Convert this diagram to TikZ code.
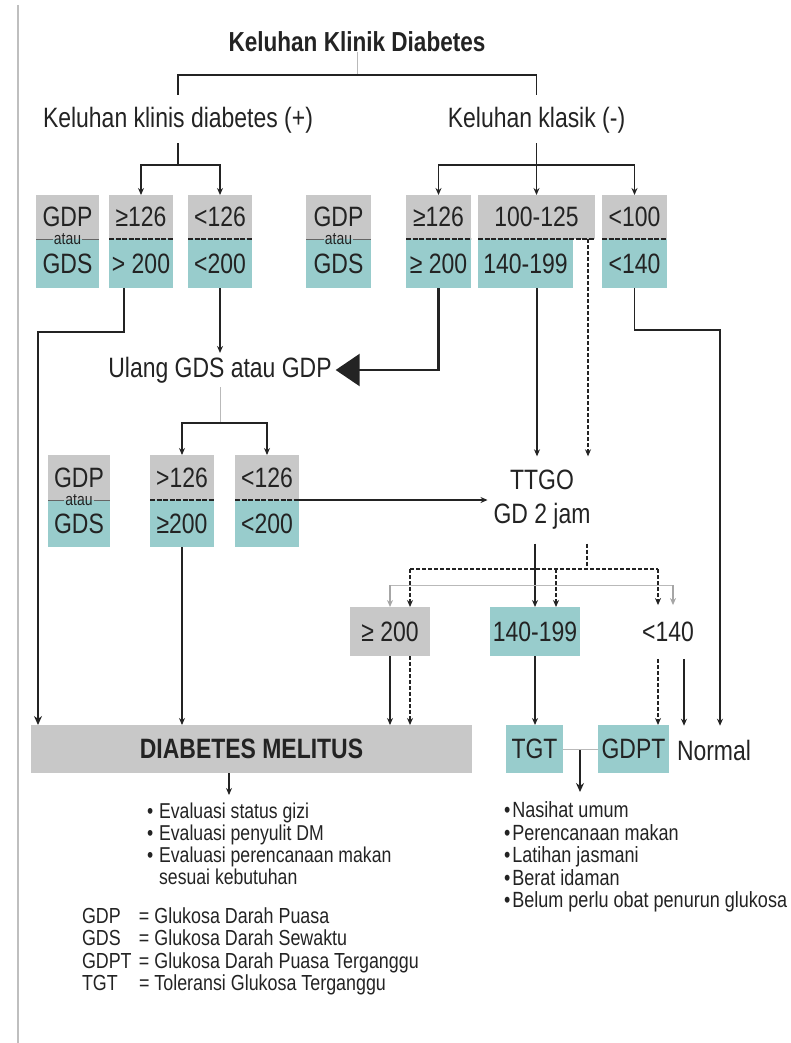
\documentclass[tikz,border=0pt]{standalone}
\usepackage{fontspec}
\setmainfont{Liberation Sans}[FakeStretch=0.82]
\usetikzlibrary{arrows.meta}
\definecolor{bgray}{RGB}{200,200,200}
\definecolor{bteal}{RGB}{152,204,204}
\definecolor{ink}{RGB}{35,35,35}
\newcommand{\mybox}[7]{\node[#2, minimum width={#5-#3}, minimum height={#6-#4}] (#1) at ({(#3+#5)/2},{(#4+#6)/2}) {#7};}
\tikzset{
 txt/.style={inner sep=0pt, outer sep=0pt, text=ink, font=\fontsize{28}{34}\selectfont},
 gcell/.style={txt, fill=bgray},
 tcell/.style={txt, fill=bteal},
 atautxt/.style={txt, font=\fontsize{17}{18}\selectfont, inner xsep=1pt},
 ln/.style={draw=ink, line width=1.2pt},
 arr/.style={ln, -{Stealth[length=7pt,width=6pt]}},
 heavy/.style={draw=ink, line width=2.4pt},
 dsh/.style={dash pattern=on 4pt off 2pt},
 splitline/.style={draw=ink, line width=2.2pt, dash pattern=on 5pt off 1.5pt},
 faint/.style={draw=gray!55, line width=1pt},
 thinsep/.style={draw=ink!70, line width=0.8pt},
 listtxt/.style={txt, anchor=north west, font=\fontsize{21.5}{21.75}\selectfont},
}
\begin{document}
\begin{tikzpicture}[x=1pt,y=-1pt]
\useasboundingbox (0,0) rectangle (790,1043);
% left border
\draw[draw=gray!50, line width=1.5pt] (18,5) -- (18,1043);

% title and first level
\node[txt, font=\bfseries\fontsize{27.5}{30}\selectfont] (T) at (357,42) {Keluhan Klinik Diabetes};
\node[txt] (KL) at (178,120) {Keluhan klinis diabetes (+)};
\node[txt] (KR) at (536.5,120) {Keluhan klasik (-)};
\coordinate (tb) at (357,75);
\draw[faint] (T.south) -- (tb);
\draw[ln, shorten <=12pt, shorten >=12pt] (KL.north) |- (tb) -| (KR.north);

% row 1 boxes
\mybox{A1t}{gcell}{36}{195}{99}{239}{GDP}
\mybox{A1b}{tcell}{36}{239}{99}{288}{GDS}
\node[atautxt] (A1a) at (67.5,239) {atau};
\draw[thinsep] (A1t.south west) -- (A1a.west);
\draw[thinsep] (A1a.east) -- (A1t.south east);

\mybox{B1t}{gcell}{109}{195}{173}{239}{≥126}
\mybox{B1b}{tcell}{109}{239}{173}{288}{> 200}
\draw[splitline] (B1t.south west) -- (B1t.south east);

\mybox{C1t}{gcell}{188}{195}{252}{239}{<126}
\mybox{C1b}{tcell}{188}{239}{252}{288}{<200}
\draw[splitline] (C1t.south west) -- (C1t.south east);

\mybox{D1t}{gcell}{306}{195}{371}{239}{GDP}
\mybox{D1b}{tcell}{306}{239}{371}{288}{GDS}
\node[atautxt] (D1a) at (338.5,239) {atau};
\draw[thinsep] (D1t.south west) -- (D1a.west);
\draw[thinsep] (D1a.east) -- (D1t.south east);

\mybox{E1t}{gcell}{406}{195}{471}{239}{≥126}
\mybox{E1b}{tcell}{406}{239}{471}{288}{≥ 200}
\draw[splitline] (E1t.south west) -- (E1t.south east);

\mybox{F1t}{gcell}{478}{195}{595}{239}{100-125}
\mybox{F1b}{tcell}{478}{239}{573}{288}{140-199}
\draw[splitline] (F1t.south west) -- (F1t.south east);

\mybox{G1t}{gcell}{602}{195}{667}{239}{<100}
\mybox{G1b}{tcell}{602}{239}{667}{288}{<140}
\draw[splitline] (G1t.south west) -- (G1t.south east);

% brackets to row 1
\coordinate (lb) at (178,165);
\draw[ln, shorten <=10pt] (KL.south) -- (lb);
\draw[arr] (lb) -| (B1t.north);
\draw[arr] (lb) -| (C1t.north);
\coordinate (rb) at (536.5,165);
\draw[ln, shorten <=10pt] (KR.south) -- (rb);
\draw[arr] (rb) -- (F1t.north);
\draw[arr] (rb) -| (E1t.north);
\draw[arr] (rb) -| (G1t.north);

% middle nodes
\node[txt, inner sep=4pt] (UL) at (220,370) {Ulang GDS atau GDP};
\node[txt, align=center, inner xsep=6pt, inner ysep=14pt] (TT) at (542,500) {TTGO\\GD 2 jam};

% row 2 boxes
\mybox{A2t}{gcell}{48}{455}{110}{500}{GDP}
\mybox{A2b}{tcell}{48}{500}{110}{547}{GDS}
\node[atautxt] (A2a) at (79,500) {atau};
\draw[thinsep] (A2t.south west) -- (A2a.west);
\draw[thinsep] (A2a.east) -- (A2t.south east);

\mybox{B2t}{gcell}{150}{455}{214}{500}{>126}
\mybox{B2b}{tcell}{150}{500}{214}{547}{≥200}
\draw[splitline] (B2t.south west) -- (B2t.south east);

\mybox{C2t}{gcell}{235}{455}{299}{500}{<126}
\mybox{C2b}{tcell}{235}{500}{299}{547}{<200}
\draw[splitline] (C2t.south west) -- (C2t.south east);

% row 3
\mybox{R3a}{gcell}{350}{607}{430}{656}{≥ 200}
\mybox{R3b}{tcell}{490}{607}{580}{656}{140-199}
\node[txt, inner ysep=17pt] (LT) at (668,632) {<140};

% bottom row
\mybox{DM}{gcell}{31}{725}{472}{773}{\bfseries DIABETES MELITUS}
\mybox{TGT}{tcell}{506}{725}{563}{773}{TGT}
\mybox{GDPT}{tcell}{598}{725}{669}{773}{GDPT}
\node[txt, inner ysep=14pt, anchor=west] (NO) at (677,750) {Normal};

% lists
\node[listtxt] (LL) at (147,803) {\begin{tabular}{@{}l@{\hspace{6pt}}l@{}}
• & Evaluasi status gizi\\
• & Evaluasi penyulit DM\\
• & Evaluasi perencanaan makan\\
 & sesuai kebutuhan
\end{tabular}};
\node[listtxt, font=\fontsize{22}{21.75}\selectfont] (RL) at (504,802) {\begin{tabular}{@{}l@{\hspace{2pt}}l@{}}
• & Nasihat umum\\
• & Perencanaan makan\\
• & Latihan jasmani\\
• & Berat idaman\\
• & Belum perlu obat penurun glukosa
\end{tabular}};
\node[listtxt, font=\fontsize{21.8}{21.3}\selectfont] (LG) at (82,908) {\begin{tabular}{@{}p{57pt}@{}l@{}}
GDP & = Glukosa Darah Puasa\\
GDS & = Glukosa Darah Sewaktu\\
GDPT & = Glukosa Darah Puasa Terganggu\\
TGT & = Toleransi Glukosa Terganggu
\end{tabular}};

% connectors from row 1
\coordinate (k1) at (38,332);
\draw[heavy, -{Stealth[length=9pt,width=8pt]}] ([xshift=-17pt]B1b.south) |- (k1) -- (k1 |- DM.north);
\draw[arr] (C1b.south) -- (UL.north);
\draw[heavy, -{Triangle[length=24pt,width=32pt]}] (E1b.south) |- (UL.east);
\coordinate (ft) at ([xshift=-5pt]TT.north);
\draw[arr] (ft |- F1b.south) -- (ft);
\coordinate (fd) at ([xshift=-7pt]F1t.south east);
\draw[arr, dsh] (fd) -- (fd |- TT.north);
\coordinate (k2) at (720,330);
\draw[arr] (G1b.south) |- (k2) -- (k2 |- NO.north);

% middle bracket
\coordinate (mb) at (220,423);
\draw[faint] (UL.south) -- (mb);
\draw[arr] (mb) -| (B2t.north);
\draw[arr] (mb) -| (C2t.north);
\draw[arr] (C2t.south east) -- (TT.west);
\draw[arr] (B2b.south) -- (B2b.south |- DM.north);

% TTGO outputs (solid)
\draw[arr] (TT.south -| R3b.north) -- (R3b.north);
\coordinate (sl) at (390,585);
\coordinate (sr) at (673,585);
\draw[faint] (sl) -- (sr);
\draw[arr, draw=gray!70] (sl) -- (sl |- R3a.north);
\draw[arr, draw=gray!70] (sr) -- (sr |- LT.north);
% TTGO outputs (dashed)
\coordinate (dj) at (587,569);
\coordinate (dl) at (410,569);
\coordinate (dm) at (556,569);
\coordinate (dr) at (658,569);
\draw[ln, dsh] (TT.south -| dj) -- (dj);
\draw[ln, dsh] (dl) -- (dr);
\draw[arr, dsh] (dl) -- (dl |- R3a.north);
\draw[arr, dsh] (dm) -- (dm |- R3b.north);
\draw[arr, dsh] (dr) -- (dr |- LT.north);

% row 3 outputs
\draw[arr] (sl |- R3a.south) -- (sl |- DM.north);
\draw[arr, dsh] (dl |- R3a.south) -- (dl |- DM.north);
\draw[arr] (R3b.south) -- (R3b.south |- TGT.north);
\draw[arr, dsh] (dr |- LT.south) -- (dr |- GDPT.north);
\coordinate (sn) at ([xshift=16pt]LT.south);
\draw[arr] (sn) -- (sn |- NO.north);

% bottom
\coordinate (da) at (229,773);
\draw[arr, shorten >=8pt] (da) -- (da |- LL.north);
\draw[faint] (TGT.east) -- (GDPT.west);
\coordinate (tm) at (580,750);
\draw[heavy, -{Stealth[length=9pt,width=8pt]}, shorten >=10pt] (tm) -- (tm |- RL.north);
\end{tikzpicture}
\end{document}
